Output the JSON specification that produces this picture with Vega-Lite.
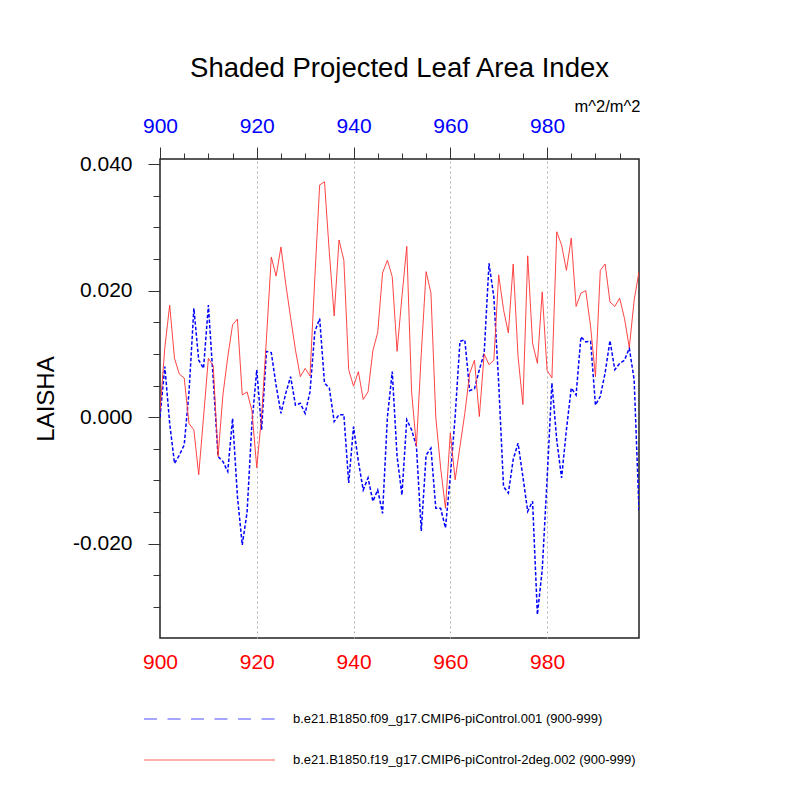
{
  "$schema": "https://vega.github.io/schema/vega-lite/v6.json",
  "width": 479,
  "height": 479,
  "autosize": {"type": "none"},
  "padding": {"left": 160, "top": 159, "right": 161, "bottom": 162},
  "title": {"text": "Shaded Projected Leaf Area Index", "fontSize": 27.5, "fontWeight": "normal", "font": "Liberation Sans", "color": "black", "offset": 16, "anchor": "middle"},
  "data": {"values": [
    {"year":900,"f09":0.000,"f19":0.001},{"year":901,"f09":0.008,"f19":0.011},{"year":902,"f09":-0.001,"f19":0.0177},{"year":903,"f09":-0.0073,"f19":0.0093},{"year":904,"f09":-0.006,"f19":0.0068},
    {"year":905,"f09":-0.0044,"f19":0.0062},{"year":906,"f09":0.004,"f19":-0.001},{"year":907,"f09":0.0172,"f19":-0.002},{"year":908,"f09":0.009,"f19":-0.0091},{"year":909,"f09":0.0077,"f19":0.000},
    {"year":910,"f09":0.0177,"f19":0.0093},{"year":911,"f09":0.006,"f19":0.0081},{"year":912,"f09":-0.0062,"f19":-0.0062},{"year":913,"f09":-0.007,"f19":0.0035},{"year":914,"f09":-0.0086,"f19":0.0095},
    {"year":915,"f09":-0.0002,"f19":0.0146},{"year":916,"f09":-0.0125,"f19":0.0155},{"year":917,"f09":-0.0202,"f19":0.0035},{"year":918,"f09":-0.015,"f19":0.004},{"year":919,"f09":-0.001,"f19":0.001},
    {"year":920,"f09":0.0075,"f19":-0.008},{"year":921,"f09":-0.002,"f19":0.0002},{"year":922,"f09":0.0104,"f19":0.0124},{"year":923,"f09":0.0102,"f19":0.0253},{"year":924,"f09":0.005,"f19":0.0223},
    {"year":925,"f09":0.0006,"f19":0.0269},{"year":926,"f09":0.0038,"f19":0.021},{"year":927,"f09":0.0064,"f19":0.0157},{"year":928,"f09":0.0019,"f19":0.0106},{"year":929,"f09":0.0022,"f19":0.0064},
    {"year":930,"f09":0.0006,"f19":0.0077},{"year":931,"f09":0.004,"f19":0.0065},{"year":932,"f09":0.0135,"f19":0.022},{"year":933,"f09":0.0156,"f19":0.0367},{"year":934,"f09":0.0054,"f19":0.0372},
    {"year":935,"f09":0.0046,"f19":0.026},{"year":936,"f09":-0.0007,"f19":0.016},{"year":937,"f09":0.0004,"f19":0.028},{"year":938,"f09":0.0004,"f19":0.0248},{"year":939,"f09":-0.0104,"f19":0.0075},
    {"year":940,"f09":-0.0015,"f19":0.0049},{"year":941,"f09":-0.007,"f19":0.0072},{"year":942,"f09":-0.0115,"f19":0.0028},{"year":943,"f09":-0.0096,"f19":0.004},{"year":944,"f09":-0.0133,"f19":0.0105},
    {"year":945,"f09":-0.0115,"f19":0.0134},{"year":946,"f09":-0.0152,"f19":0.0228},{"year":947,"f09":0.000,"f19":0.0248},{"year":948,"f09":0.0072,"f19":0.0222},{"year":949,"f09":-0.0062,"f19":0.0104},
    {"year":950,"f09":-0.0123,"f19":0.019},{"year":951,"f09":-0.0004,"f19":0.027},{"year":952,"f09":-0.002,"f19":0.004},{"year":953,"f09":-0.0046,"f19":-0.0046},{"year":954,"f09":-0.018,"f19":0.010},
    {"year":955,"f09":-0.006,"f19":0.023},{"year":956,"f09":-0.0049,"f19":0.0196},{"year":957,"f09":-0.0144,"f19":0.000},{"year":958,"f09":-0.0144,"f19":-0.008},{"year":959,"f09":-0.0175,"f19":-0.0144},
    {"year":960,"f09":-0.0094,"f19":-0.0025},{"year":961,"f09":0.0001,"f19":-0.0099},{"year":962,"f09":0.012,"f19":-0.0046},{"year":963,"f09":0.0122,"f19":0.0006},{"year":964,"f09":0.0042,"f19":0.0069},
    {"year":965,"f09":0.0045,"f19":0.009},{"year":966,"f09":0.0075,"f19":0.0001},{"year":967,"f09":0.0101,"f19":0.010},{"year":968,"f09":0.0243,"f19":0.0083},{"year":969,"f09":0.019,"f19":0.009},
    {"year":970,"f09":0.0054,"f19":0.0225},{"year":971,"f09":-0.011,"f19":0.017},{"year":972,"f09":-0.012,"f19":0.0133},{"year":973,"f09":-0.0067,"f19":0.0242},{"year":974,"f09":-0.0041,"f19":0.0096},
    {"year":975,"f09":-0.0094,"f19":0.002},{"year":976,"f09":-0.0149,"f19":0.0255},{"year":977,"f09":-0.0133,"f19":0.0117},{"year":978,"f09":-0.0312,"f19":0.0085},{"year":979,"f09":-0.0241,"f19":0.0198},
    {"year":980,"f09":-0.0099,"f19":0.0074},{"year":981,"f09":0.0054,"f19":0.0062},{"year":982,"f09":-0.0036,"f19":0.0293},{"year":983,"f09":-0.0096,"f19":0.0272},{"year":984,"f09":-0.002,"f19":0.0232},
    {"year":985,"f09":0.0046,"f19":0.0283},{"year":986,"f09":0.0035,"f19":0.0175},{"year":987,"f09":0.0127,"f19":0.0196},{"year":988,"f09":0.0119,"f19":0.020},{"year":989,"f09":0.012,"f19":0.0143},
    {"year":990,"f09":0.0019,"f19":0.0064},{"year":991,"f09":0.0033,"f19":0.0232},{"year":992,"f09":0.007,"f19":0.0242},{"year":993,"f09":0.0121,"f19":0.0182},{"year":994,"f09":0.0075,"f19":0.0175},
    {"year":995,"f09":0.0085,"f19":0.0188},{"year":996,"f09":0.009,"f19":0.0156},{"year":997,"f09":0.0109,"f19":0.011},{"year":998,"f09":0.0059,"f19":0.0185},{"year":999,"f09":-0.0147,"f19":0.023}
  ]},
  "layer": [
    {
      "mark": {"type": "line", "strokeWidth": 1.5, "strokeDash": [3.5, 2], "clip": true},
      "encoding": {
        "x": {"field": "year", "type": "quantitative",
          "scale": {"domain": [900, 999], "nice": false, "zero": false},
          "axis": {"orient": "top", "title": "m^2/m^2", "titleFontSize": 16.5, "titleFontWeight": "normal", "titleFont": "Liberation Sans", "titleColor": "black",
            "titleAlign": "right", "titleX": 480, "titleY": -48, "titleBaseline": "alphabetic", "titleAngle": 0,
            "values": [900,905,910,915,920,925,930,935,940,945,950,955,960,965,970,975,980,985,990,995],
            "labelExpr": "datum.value % 20 == 0 ? format(datum.value, 'd') : ''",
            "labelColor": "#0000ff", "labelFontSize": 21, "labelFont": "Liberation Sans", "labelPadding": 11, "labelFlush": false, "labelOverlap": false,
            "domain": false, "ticks": true, "tickColor": "#333333", "tickWidth": 1,
            "tickSize": {"condition": {"test": "datum.value % 20 == 0", "value": 12}, "value": 6},
            "grid": true, "gridColor": "#b0b0b0", "gridDash": [2, 3], "gridWidth": 1,
            "gridOpacity": {"condition": {"test": "datum.value % 20 == 0 && datum.value > 900", "value": 1}, "value": 0}}},
        "y": {"field": "f09", "type": "quantitative",
          "scale": {"domain": [-0.0349, 0.0408], "nice": false, "zero": false},
          "axis": {"orient": "left", "title": "LAISHA", "titleFontSize": 24, "titleFontWeight": "normal", "titleFont": "Liberation Sans", "titleColor": "black",
            "titleX": -114, "titleBaseline": "middle",
            "values": [-0.03,-0.025,-0.02,-0.015,-0.01,-0.005,0,0.005,0.01,0.015,0.02,0.025,0.03,0.035,0.04],
            "labelExpr": "abs(datum.value*50 - round(datum.value*50)) < 0.001 ? replace(format(datum.value, '.3f'), '\u2212', '-') : ''",
            "labelColor": "black", "labelFontSize": 21, "labelFont": "Liberation Sans", "labelPadding": 16, "labelFlush": false, "labelOverlap": false,
            "domain": false, "grid": false, "tickColor": "#333333", "tickWidth": 1,
            "tickSize": {"condition": {"test": "abs(datum.value*50 - round(datum.value*50)) < 0.001", "value": 12}, "value": 7}}},
        "color": {"datum": "f09", "type": "nominal",
          "scale": {"domain": ["f09", "f19"], "range": ["#0000ff", "#ff3030"]},
          "legend": {"orient": "none", "legendX": 42.5, "legendY": 553, "direction": "vertical", "title": null, "padding": 0,
            "symbolType": "M-9.36,-0.07H9.36V0.07H-9.36Z", "symbolSize": 196, "symbolStrokeWidth": 0, "symbolStrokeColor": "transparent",
            "labelFontSize": 13, "labelFont": "Liberation Sans", "labelColor": "black", "labelOffset": 76.5, "rowPadding": 27, "labelLimit": 600,
            "labelExpr": "datum.value == 'f09' ? 'b.e21.B1850.f09_g17.CMIP6-piControl.001 (900-999)' : 'b.e21.B1850.f19_g17.CMIP6-piControl-2deg.002 (900-999)'",
            "encode": {"symbols": {"update": {
              "fill": {"signal": "datum.value == 'f09' ? '#3a3aff' : '#ff4a4a'"},
              "fillOpacity": {"value": 0.9},
              "shape": {"signal": "datum.value == 'f09' ? 'M-9.36,-0.08H-7.5V0.08H-9.36Z M-6.0,-0.08H-4.14V0.08H-6.0Z M-2.645,-0.08H-0.79V0.08H-2.645Z M0.71,-0.08H2.57V0.08H0.71Z M4.07,-0.08H5.93V0.08H4.07Z M7.43,-0.08H9.29V0.08H7.43Z' : 'M-9.36,-0.07H9.36V0.07H-9.36Z'"},
              "opacity": {"value": 1}}}}}
        }
      }
    },
    {
      "mark": {"type": "line", "strokeWidth": 0.9, "clip": true},
      "encoding": {
        "x": {"field": "year", "type": "quantitative",
          "axis": {"orient": "bottom", "title": null, "values": [900, 920, 940, 960, 980], "format": "d",
            "labelColor": "#ff0000", "labelFontSize": 21, "labelFont": "Liberation Sans", "labelPadding": 13, "labelFlush": false, "labelOverlap": false,
            "ticks": false, "domain": false, "grid": false}},
        "y": {"field": "f19", "type": "quantitative", "axis": null},
        "color": {"datum": "f19", "type": "nominal"}
      }
    }
  ],
  "resolve": {"axis": {"x": "independent", "y": "independent"}},
  "config": {
    "font": "Liberation Sans",
    "view": {"stroke": "#222222", "strokeWidth": 1.5}
  }
}
